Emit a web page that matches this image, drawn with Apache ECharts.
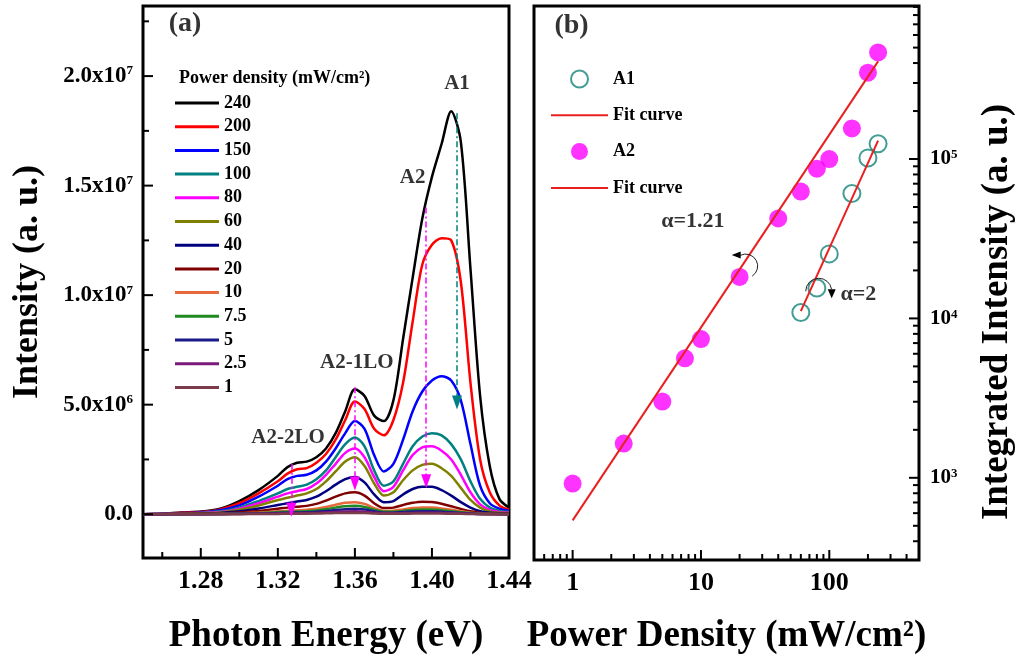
<!DOCTYPE html>
<html><head><meta charset="utf-8">
<script src="https://cdn.jsdelivr.net/npm/echarts@6/dist/echarts.min.js"></script>
<style>html,body{margin:0;padding:0;background:#fff}#c{width:1020px;height:661px}</style>
</head><body><div id="c"></div>
<script>
// ---------- Panel (a): PL spectra (intensity in units of 10^6) ----------
const ENERGY = [1.25,1.26,1.27,1.28,1.29,1.30,1.31,1.32,1.325,1.33,1.335,1.34,1.345,1.35,1.355,1.36,1.365,1.37,1.375,1.38,1.385,1.39,1.395,1.40,1.405,1.41,1.415,1.42,1.425,1.43,1.435,1.44];
const S240 = [0,0.02,0.08,0.12,0.25,0.6,1.1,1.75,2.15,2.35,2.4,2.6,3.0,3.7,4.7,5.7,5.4,4.5,4.25,5.2,8.0,10.8,13.5,15.4,16.9,18.4,17.0,11.2,5.4,2.2,0.7,0.3];
const S200 = [0,0.02,0.07,0.1,0.22,0.5,0.95,1.5,1.85,2.05,2.1,2.35,2.75,3.4,4.3,5.15,4.8,3.9,3.6,4.3,6.0,8.8,11.4,12.3,12.6,12.5,10.6,6.0,2.5,1.0,0.4,0.2];
const S150 = [0,0.01,0.05,0.08,0.18,0.4,0.8,1.3,1.6,1.75,1.8,2.0,2.4,3.0,3.7,4.25,3.9,2.7,1.95,2.3,3.4,4.7,5.6,6.1,6.3,6.1,5.2,3.2,1.3,0.5,0.25,0.15];
const S100 = [0,0.01,0.03,0.06,0.13,0.3,0.6,0.95,1.15,1.25,1.35,1.6,2.0,2.6,3.2,3.5,3.1,2.0,1.3,1.5,2.3,3.1,3.55,3.7,3.6,3.2,2.5,1.5,0.7,0.3,0.15,0.1];
const S80  = [0,0.01,0.03,0.05,0.1,0.25,0.5,0.8,0.95,1.05,1.15,1.4,1.8,2.3,2.8,3.0,2.6,1.7,1.05,1.25,2.0,2.7,3.05,3.1,2.9,2.5,1.8,1.0,0.45,0.2,0.1,0.07];
const S60  = [0,0.01,0.02,0.04,0.08,0.2,0.4,0.65,0.75,0.85,0.95,1.15,1.5,1.95,2.4,2.6,2.2,1.4,0.85,1.0,1.55,2.0,2.25,2.3,2.1,1.75,1.2,0.65,0.3,0.13,0.07,0.05];
const S40  = [0,0.01,0.02,0.03,0.06,0.13,0.26,0.42,0.5,0.58,0.65,0.8,1.05,1.35,1.6,1.7,1.45,0.9,0.55,0.6,0.9,1.15,1.25,1.25,1.1,0.85,0.55,0.3,0.14,0.07,0.04,0.03];
const S20  = [0,0,0.01,0.02,0.04,0.08,0.15,0.25,0.3,0.34,0.38,0.47,0.62,0.8,0.95,1.0,0.85,0.5,0.28,0.3,0.42,0.52,0.57,0.56,0.48,0.36,0.24,0.13,0.06,0.03,0.02,0.01];
const S10  = [0,0,0.01,0.01,0.02,0.04,0.08,0.13,0.16,0.18,0.2,0.25,0.33,0.43,0.52,0.55,0.47,0.28,0.15,0.16,0.22,0.28,0.31,0.3,0.26,0.2,0.13,0.07,0.03,0.02,0.01,0.01];
const S7_5 = [0,0,0,0.01,0.01,0.03,0.05,0.09,0.11,0.12,0.14,0.17,0.23,0.3,0.36,0.38,0.33,0.2,0.11,0.11,0.15,0.19,0.21,0.21,0.18,0.14,0.09,0.05,0.02,0.01,0.01,0];
const S5   = [0,0,0,0,0.01,0.02,0.03,0.06,0.07,0.08,0.09,0.11,0.15,0.19,0.23,0.25,0.21,0.13,0.07,0.07,0.1,0.12,0.13,0.13,0.11,0.09,0.06,0.03,0.01,0.01,0,0];
const S2_5 = [0,0,0,0,0,0.01,0.02,0.03,0.04,0.04,0.05,0.06,0.08,0.1,0.12,0.13,0.11,0.07,0.04,0.04,0.05,0.06,0.07,0.07,0.06,0.05,0.03,0.02,0.01,0,0,0];
const S1   = [0,0,0,0,0,0,0.01,0.01,0.02,0.02,0.02,0.03,0.04,0.05,0.06,0.06,0.05,0.03,0.02,0.02,0.02,0.03,0.03,0.03,0.03,0.02,0.02,0.01,0,0,0,0];
const POWER_LABELS = ['240','200','150','100','80','60','40','20','10','7.5','5','2.5','1'];
const SPECTRA = [S240,S200,S150,S100,S80,S60,S40,S20,S10,S7_5,S5,S2_5,S1];

// peak marker lines (energy, top, arrow tip)
const PEAK_E   = [1.327, 1.360, 1.397, 1.413];
const PEAK_TOP = [2.3, 5.8, 14.0, 18.3];
const PEAK_TIP = [0.2, 1.4, 1.5, 5.1];

// text annotations in panel (a)
const ANN_A_TEXT = ['(a)', 'A1', 'A2', 'A2-1LO', 'A2-2LO'];
const ANN_A_E    = [1.2718, 1.413, 1.390, 1.361, 1.3253];
const ANN_A_I    = [22.38, 19.64, 15.35, 6.90, 3.52];

// axis ticks (a)
const XA_LABELS = [1.28, 1.32, 1.36, 1.40, 1.44];
const XA_MINOR  = [1.26, 1.30, 1.34, 1.38, 1.42];
const YA_LABELS = [0, 5, 10, 15, 20];
const YA_MINOR  = [2.5, 7.5, 12.5, 17.5, 22.5];

// ---------- Panel (b): integrated intensity vs power ----------
const POWER_A2 = [1, 2.5, 5, 7.5, 10, 20, 40, 60, 80, 100, 150, 200, 240];
const INT_A2   = [920, 1640, 3010, 5620, 7420, 18200, 42400, 62500, 87000, 100000, 155600, 348000, 466000];
const POWER_A1 = [60, 80, 100, 150, 200, 240];
const INT_A1   = [10900, 15500, 25400, 60800, 101600, 124800];
const FIT_A2_X = [1, 240];
const FIT_A2_Y = [541, 410000];
const FIT_A1_X = [60, 240];
const FIT_A1_Y = [11100, 130400];

const ANN_B_TEXT = ['(b)', 'α=1.21', 'α=2'];
const ANN_B_X    = [0.98, 8.66, 168.5];
const ANN_B_Y    = [684000, 40800, 14250];
const ARROW_X    = [22.3, 82.7];
const ARROW_Y    = [21300, 14800];

const XB_LABELS = [1, 10, 100];
const XB_MINOR  = [0.6,0.7,0.8,0.9, 2,3,4,5,6,7,8,9, 20,30,40,50,60,70,80,90, 200,300,400];
const YB_LABELS = [1000, 10000, 100000];
const YB_MINOR  = [400,500,600,700,800,900, 2000,3000,4000,5000,6000,7000,8000,9000, 20000,30000,40000,50000,60000,70000,80000,90000, 200000,300000,400000,500000,600000,700000,800000,900000];

// ---------- styling ----------
const FONT = '"Liberation Serif","Times New Roman",serif';
const COLORS = ['#000000','#ff0000','#0000ff','#008080','#ff00ff','#808000','#000080','#800000','#e8683c','#1f8a1f','#1a1a8c','#7a1a7a','#7a3b4b'];
const PEAK_COLORS = ['#ff00ff','#ff00ff','#ff00ff','#008080'];
const TEAL = '#14857a', MAG = '#ff00ff', FITRED = '#e8201f';
const XA_MIN = 1.25, XA_MAX = 1.44, YA_MIN = -2, YA_MAX = 23.2;
const XB_MIN = 0.5, XB_MAX = 500, YB_MIN = 305, YB_MAX = 912000;

const near = (a, b) => Math.abs(a - b) < 1e-6;

function tickRender(params, api) {
  const p = api.coord([api.value(0), api.value(1)]);
  const k = api.value(2);
  const len = (k % 2 === 0) ? 10 : 6;
  const side = Math.floor(k / 2);
  let x2 = p[0], y2 = p[1];
  if (side === 0) y2 = p[1] - len; else if (side === 1) x2 = p[0] + len; else x2 = p[0] - len;
  return { type: 'line', shape: { x1: p[0], y1: p[1], x2: x2, y2: y2 }, style: { stroke: '#000', lineWidth: 2 } };
}

const ticksA = [].concat(
  XA_LABELS.map(v => [v, YA_MIN, 0]), XA_MINOR.map(v => [v, YA_MIN, 1]),
  YA_LABELS.map(v => [XA_MIN, v, 2]), YA_MINOR.map(v => [XA_MIN, v, 3]));
const ticksB = [].concat(
  XB_LABELS.map(v => [v, YB_MIN, 0]), XB_MINOR.map(v => [v, YB_MIN, 1]),
  YB_LABELS.map(v => [XB_MAX, v, 4]), YB_MINOR.map(v => [XB_MAX, v, 5]));

const boldTxt = (size) => ({ fontFamily: FONT, fontWeight: 'bold', fontSize: size, color: '#000' });

const spectraSeries = SPECTRA.map((arr, i) => ({
  type: 'line', name: POWER_LABELS[i], xAxisIndex: 0, yAxisIndex: 0,
  data: ENERGY.map((e, j) => [e, arr[j]]),
  symbol: 'none', showSymbol: false, smooth: 0.3,
  lineStyle: { width: 2.5, color: COLORS[i] }, itemStyle: { color: COLORS[i] },
  silent: true, z: 2
}));

const option = {
  animation: false,
  backgroundColor: '#fff',
  title: [{ text: 'Power density (mW/cm²)', left: 174, top: 64, textStyle: boldTxt(18) }],
  grid: [
    { left: 143, top: 6, width: 366, height: 552, show: true, borderColor: '#000', borderWidth: 3, backgroundColor: 'transparent', outerBoundsMode: 'none', containLabel: false },
    { left: 534, top: 6, width: 385, height: 554, show: true, borderColor: '#000', borderWidth: 3, backgroundColor: 'transparent', outerBoundsMode: 'none', containLabel: false }
  ],
  xAxis: [
    { type: 'value', gridIndex: 0, min: XA_MIN, max: XA_MAX, interval: 0.01,
      axisLine: { show: false }, axisTick: { show: false }, splitLine: { show: false },
      axisLabel: Object.assign(boldTxt(26), { margin: 10,
        formatter: v => XA_LABELS.some(l => near(l, v)) ? v.toFixed(2) : '' }),
      name: 'Photon Energy (eV)', nameLocation: 'middle', nameGap: 60, nameTextStyle: boldTxt(37) },
    { type: 'log', gridIndex: 1, min: XB_MIN, max: XB_MAX, logBase: 10,
      axisLine: { show: false }, axisTick: { show: false }, splitLine: { show: false }, minorTick: { show: false },
      axisLabel: Object.assign(boldTxt(26), { margin: 10,
        formatter: v => XB_LABELS.some(l => Math.abs(l - v) / l < 1e-6) ? String(Math.round(v)) : '' }),
      name: 'Power Density (mW/cm²)', nameLocation: 'middle', nameGap: 58, nameTextStyle: boldTxt(37) }
  ],
  yAxis: [
    { type: 'value', gridIndex: 0, min: YA_MIN, max: YA_MAX, interval: 1,
      axisLine: { show: false }, axisTick: { show: false }, splitLine: { show: false },
      axisLabel: { margin: 10, align: 'right',
        formatter: v => {
          if (!YA_LABELS.some(l => near(l, v))) return '';
          if (near(v, 0)) return '{m|0.0}';
          const val = v * 1e6;
          const ex = Math.floor(Math.log10(val) + 1e-9);
          return '{m|' + (val / Math.pow(10, ex)).toFixed(1) + 'x10}{s|' + ex + '}';
        },
        rich: { m: Object.assign(boldTxt(23), { verticalAlign: 'bottom' }), s: Object.assign(boldTxt(13), { verticalAlign: 'top' }) } },
      name: 'Intensity (a. u.)', nameLocation: 'middle', nameGap: 97, nameRotate: 90, nameTextStyle: boldTxt(36) },
    { type: 'log', gridIndex: 1, position: 'right', min: YB_MIN, max: YB_MAX, logBase: 10,
      axisLine: { show: false }, axisTick: { show: false }, splitLine: { show: false }, minorTick: { show: false },
      axisLabel: { margin: 11, align: 'left',
        formatter: v => {
          const l = YB_LABELS.find(q => Math.abs(q - v) / q < 1e-6);
          if (!l) return '';
          return '{m|10}{s|' + Math.round(Math.log10(l)) + '}';
        },
        rich: { m: Object.assign(boldTxt(21), { verticalAlign: 'bottom' }), s: Object.assign(boldTxt(13), { verticalAlign: 'top' }) } } }
  ],
  legend: [
    { data: POWER_LABELS, orient: 'vertical', left: 170, top: 88, icon: 'rect', itemWidth: 44, itemHeight: 3,
      itemGap: 3.7, selectedMode: false, textStyle: Object.assign(boldTxt(18), { lineHeight: 20 }) },
    { data: [
        { name: 'A1', icon: 'circle', itemStyle: { color: 'rgba(255,255,255,0)', borderColor: TEAL, borderWidth: 2 } },
        { name: 'Fit curve', itemStyle: { opacity: 0 } },
        { name: 'A2', icon: 'circle', itemStyle: { color: MAG } },
        { name: 'Fit curve ', itemStyle: { opacity: 0 } } ],
      orient: 'vertical', left: 545, top: 64, itemWidth: 57, itemHeight: 17, itemGap: 16.3, selectedMode: false,
      textStyle: Object.assign(boldTxt(18), { lineHeight: 20 }) }
  ],
  graphic: [
    { type: 'text', x: 997, y: 312, rotation: Math.PI / 2, silent: true,
      style: { text: 'Integrated Intensity (a. u.)', font: 'bold 37px ' + FONT, fill: '#000', align: 'center', verticalAlign: 'middle', textAlign: 'center', textVerticalAlign: 'middle' } }
  ],
  series: spectraSeries.concat([
    { type: 'custom', name: 'ticksA', xAxisIndex: 0, yAxisIndex: 0, renderItem: tickRender, data: ticksA, clip: false, silent: true, z: 5 },
    { type: 'scatter', name: 'annA', xAxisIndex: 0, yAxisIndex: 0, silent: true, z: 6,
      symbolSize: 1, itemStyle: { color: 'rgba(0,0,0,0)' },
      data: ANN_A_TEXT.map((t, i) => ({ name: t, value: [ANN_A_E[i], ANN_A_I[i]],
        label: { fontSize: t === '(a)' ? 28 : 21 } })),
      label: Object.assign(boldTxt(21), { show: true, position: 'inside', formatter: p => p.name }),
      markLine: { silent: true, symbol: ['none', 'triangle'], symbolSize: [10, 14], label: { show: false },
        lineStyle: { type: [6, 3, 2, 3], width: 1.5 },
        data: PEAK_E.map((e, i) => [
          { coord: [e, PEAK_TOP[i]], lineStyle: { color: PEAK_COLORS[i] }, itemStyle: { color: PEAK_COLORS[i] } },
          { coord: [e, PEAK_TIP[i]] } ]) } },
    { type: 'scatter', name: 'A2', xAxisIndex: 1, yAxisIndex: 1, symbol: 'circle', symbolSize: 18,
      itemStyle: { color: MAG }, data: POWER_A2.map((x, i) => [x, INT_A2[i]]), z: 3, silent: true },
    { type: 'scatter', name: 'A1', xAxisIndex: 1, yAxisIndex: 1, symbol: 'circle', symbolSize: 17,
      itemStyle: { color: 'rgba(255,255,255,0)', borderColor: TEAL, borderWidth: 2 },
      data: POWER_A1.map((x, i) => [x, INT_A1[i]]), z: 3, silent: true },
    { type: 'line', name: 'Fit curve', xAxisIndex: 1, yAxisIndex: 1, symbol: 'none', showSymbol: false,
      lineStyle: { color: FITRED, width: 2 }, itemStyle: { color: FITRED },
      data: FIT_A1_X.map((x, i) => [x, FIT_A1_Y[i]]), z: 4, silent: true },
    { type: 'line', name: 'Fit curve ', xAxisIndex: 1, yAxisIndex: 1, symbol: 'none', showSymbol: false,
      lineStyle: { color: FITRED, width: 2 }, itemStyle: { color: FITRED },
      data: FIT_A2_X.map((x, i) => [x, FIT_A2_Y[i]]), z: 4, silent: true },
    { type: 'custom', name: 'ticksB', xAxisIndex: 1, yAxisIndex: 1, renderItem: tickRender, data: ticksB, clip: false, silent: true, z: 5 },
    { type: 'scatter', name: 'annB', xAxisIndex: 1, yAxisIndex: 1, silent: true, z: 6,
      symbolSize: 1, itemStyle: { color: 'rgba(0,0,0,0)' },
      data: ANN_B_TEXT.map((t, i) => ({ name: t, value: [ANN_B_X[i], ANN_B_Y[i]],
        label: { fontSize: t === '(b)' ? 28 : 22 } })),
      label: Object.assign(boldTxt(22), { show: true, position: 'inside', formatter: p => p.name }) },
    { type: 'custom', name: 'arrowsB', xAxisIndex: 1, yAxisIndex: 1, clip: false, silent: true, z: 6,
      data: ARROW_X.map((x, i) => [x, ARROW_Y[i]]),
      renderItem: (params, api) => {
        const p = api.coord([api.value(0), api.value(1)]);
        const cx = p[0], cy = p[1];
        const d = Math.PI / 180;
        if (params.dataIndex === 0) {
          return { type: 'group', children: [
            { type: 'arc', shape: { cx: cx, cy: cy, r: 12, startAngle: -117 * d, endAngle: 57 * d, clockwise: true },
              style: { stroke: '#222', fill: 'none', lineWidth: 1 } },
            { type: 'polygon', shape: { points: [[cx - 14, cy - 11], [cx - 5, cy - 14.5], [cx - 5, cy - 7.5]] }, style: { fill: '#000' } } ] };
        }
        return { type: 'group', children: [
          { type: 'arc', shape: { cx: cx, cy: cy, r: 13, startAngle: 180 * d, endAngle: 350 * d, clockwise: true },
            style: { stroke: '#222', fill: 'none', lineWidth: 1 } },
          { type: 'polygon', shape: { points: [[cx + 9, cy - 2], [cx + 17, cy - 2], [cx + 13, cy + 7]] }, style: { fill: '#000' } } ] };
      } }
  ])
};

const chart = echarts.init(document.getElementById('c'), null, { renderer: 'canvas' });
chart.setOption(option);
</script></body></html>
